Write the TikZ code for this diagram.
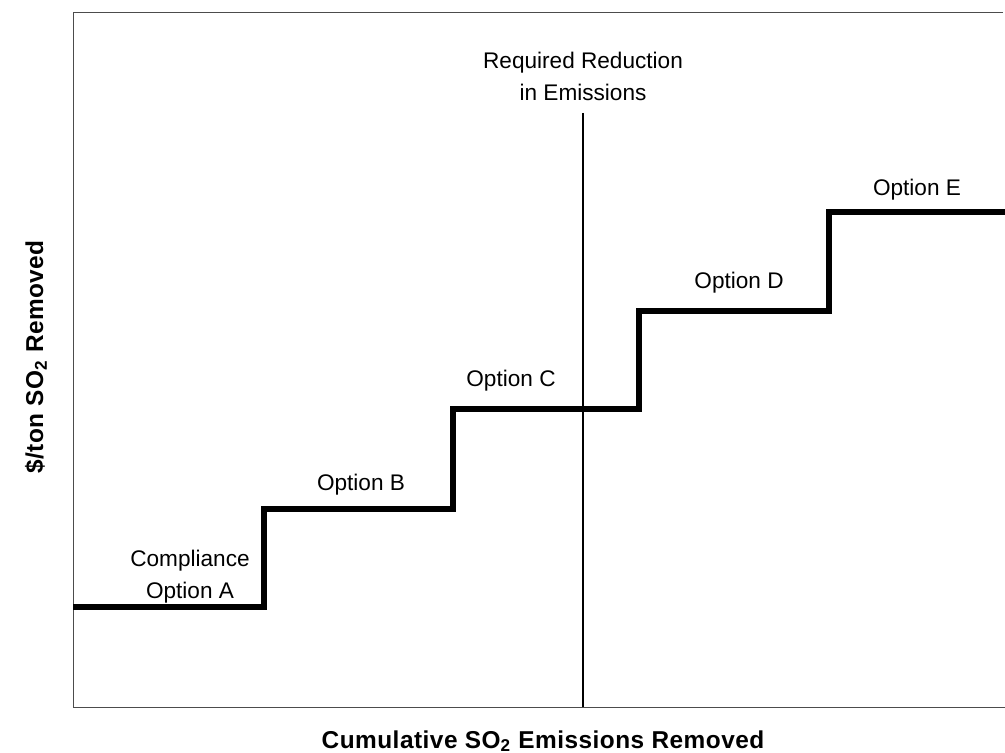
\documentclass[tikz,border=0pt]{standalone}
\usepackage{fontspec}
\setmainfont{Liberation Sans}
\usetikzlibrary{positioning}
\tikzset{
	option/.style={font=\fontsize{11.3}{16}\selectfont, align=center, inner sep=0pt},
	axislabel/.style={font=\fontsize{12.2}{14}\selectfont\bfseries\addfontfeature{LetterSpace=2}, inner sep=0pt},
	stair/.style={line width=2.6pt, line join=miter},
}

\begin{document}
\begin{tikzpicture}[x=0.5pt, y=-0.5pt]
	\useasboundingbox (0,0) rectangle (1005,753);
	% frame
	\draw[black!70, line width=0.5pt] (1003,13) -- (73,13) -- (73,707) -- (1005,707);
	% required reduction
	\draw[line width=0.7pt] (583,113) -- (583,707);
	\node[option] (req) at (583,76) {Required Reduction\\in Emissions};
	%
	\draw[stair] (73,607) -- (264,607) -- (264,509) -- (453,509) -- (453,409) -- (639,409) -- (639,311) -- (829,311) -- (829,212) -- (1005,212);
	%
	\node[option] (optA) at (190,577) {Compliance\\Option A};
	\node[option] (optB) at (361,485) {Option B};
	\node[option] (optC) at (511,381) {Option C};
	\node[option] (optD) at (739,283) {Option D};
	\node[option] (optE) at (917,190) {Option E};
	%
	\node[axislabel] (xlab) at (543,741) {Cumulative SO\textsubscript{2} Emissions Removed};
	\node[axislabel, rotate=90] (ylab) at (36,357) {\$/ton SO\textsubscript{2} Removed};
\end{tikzpicture}
\end{document}
